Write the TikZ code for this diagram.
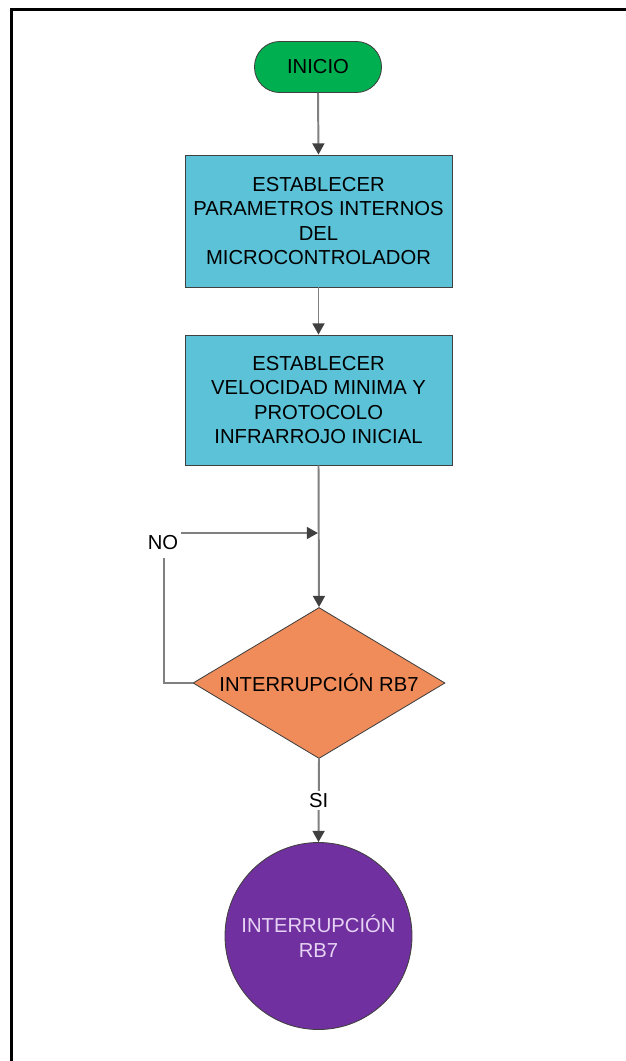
\documentclass[tikz,border=0pt]{standalone}
\usepackage{fontspec}
\setmainfont{Liberation Sans}
\usetikzlibrary{arrows.meta,shapes.geometric}
\definecolor{startgreen}{RGB}{0,176,80}
\definecolor{procblue}{RGB}{92,194,216}
\definecolor{decorange}{RGB}{240,140,90}
\definecolor{endpurple}{RGB}{112,48,160}
\definecolor{endtext}{RGB}{230,210,242}
\definecolor{linegrey}{RGB}{128,128,128}
\definecolor{tipgrey}{RGB}{64,64,64}
\tikzset{
  every node/.style={font=\fontsize{14.4}{17.4}\selectfont, align=center},
  shapeborder/.style={draw=tipgrey, line width=0.6pt},
  terminal/.style={shapeborder, fill=startgreen, rounded corners=0.63cm,
    minimum width=3.175cm, minimum height=1.275cm, inner sep=0pt},
  process/.style={shapeborder, fill=procblue,
    minimum width=6.675cm, inner sep=0pt},
  decision/.style={shapeborder, fill=decorange, diamond, aspect=1.67,
    minimum width=6.3cm, minimum height=3.775cm, inner sep=0pt},
  endcircle/.style={shapeborder, fill=endpurple, circle,
    minimum size=4.675cm, inner sep=0pt, text=endtext},
  flow/.style={draw=linegrey, line width=1.4pt,
    -{Triangle[width=8.5pt,length=8pt,color=tipgrey]}},
  plainflow/.style={draw=linegrey, line width=1.4pt},
  edgelabel/.style={fill=white, inner sep=2pt},
  frameline/.style={draw=black, line width=2pt}
}
\begin{document}
\begin{tikzpicture}
\useasboundingbox (0,0) rectangle (15.65,-26.525);

% page frame (top and left edges)
\draw[frameline] (15.65,-0.23) -- (0.28,-0.23) -- (0.28,-26.525);

% shapes
\node[terminal] (start) at (7.95,-1.675) {INICIO};
\node[process, minimum height=3.3cm] (params) at (7.9625,-5.525)
  {ESTABLECER\\PARAMETROS INTERNOS\\DEL\\MICROCONTROLADOR};
\node[process, minimum height=3.25cm] (speed) at (7.9625,-10.0)
  {ESTABLECER\\VELOCIDAD MINIMA Y\\PROTOCOLO\\INFRARROJO INICIAL};
\node[decision] (rb7) at (7.975,-17.075) {INTERRUPCIÓN RB7};
\node[endcircle] (isr) at (7.9625,-23.4) {INTERRUPCIÓN\\RB7};

% connectors
\draw[flow] (start.south) -- (params.north);
\draw[flow] (params.south) -- (speed.north);
\draw[flow] (speed.south) -- (rb7.north);
\coordinate (merge) at (7.95,-13.325);
\coordinate (corner) at (4.1,-13.325);
\draw[plainflow] (rb7.west) -| (corner);
\draw[flow] (corner) -- (merge);
\node[edgelabel, minimum width=0.62cm, minimum height=0.75cm] (no) at (4.075,-13.575) {NO};
\draw[flow] (rb7.south) -- node[edgelabel] (si) {SI} (isr.north);
\end{tikzpicture}
\end{document}
